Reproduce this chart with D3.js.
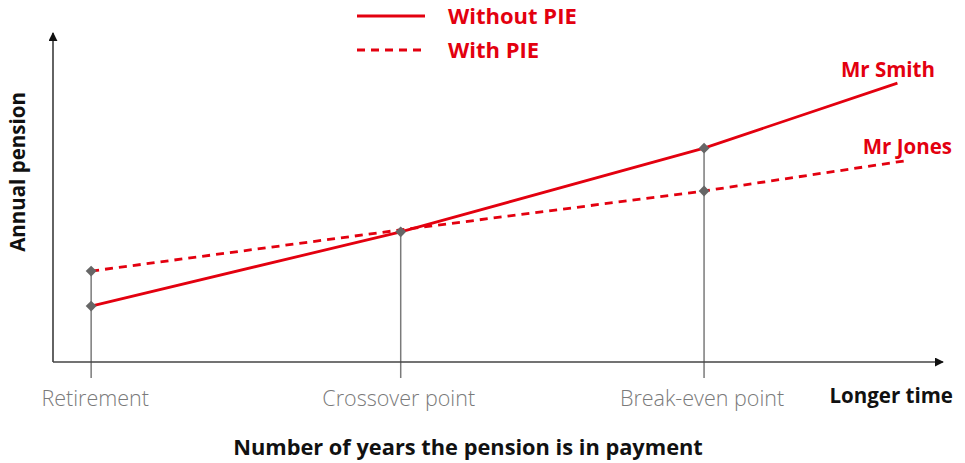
<!DOCTYPE html>
<html>
<head>
<meta charset="utf-8">
<script src="https://cdnjs.cloudflare.com/ajax/libs/d3/7.8.5/d3.min.js"></script>
<style>
  body { margin: 0; background: #fff; }
  svg text { font-family: "Open Sans", sans-serif; }
</style>
</head>
<body>
<script>
// data: time positions (0-100) and pension levels (0-100)
var categories = ['Retirement', 'Crossover point', 'Break-even point'];
var catTimes = [4.3, 39.2, 73.4];
var smithTimes = [4.3, 39.2, 73.4, 95.2];
var smithValues = [17.1, 39.8, 65.4, 85.3];
var jonesTimes = [4.3, 39.2, 73.4, 96.0];
var jonesValues = [27.8, 40.4, 52.3, 61.5];
var markerTimes = [4.3, 4.3, 39.2, 73.4, 73.4];
var markerValues = [27.8, 17.1, 39.8, 65.4, 52.3];

var width = 965, height = 463;
var red = '#e3000f', grey = '#7a7a7a';

var svg = d3.select('body').append('svg')
    .attr('width', width)
    .attr('height', height);

var x = d3.scaleLinear().domain([0, 100]).range([53, 940]);
var y = d3.scaleLinear().domain([0, 100]).range([362, 35]);

// arrow heads
var defs = svg.append('defs');
defs.append('marker')
    .attr('id', 'arrow')
    .attr('viewBox', '0 0 10 10')
    .attr('refX', 9).attr('refY', 5)
    .attr('markerWidth', 9).attr('markerHeight', 9)
    .attr('markerUnits', 'userSpaceOnUse')
    .attr('orient', 'auto')
  .append('path').attr('d', 'M0,0L10,5L0,10Z').attr('fill', '#111');

// category drop lines
svg.append('g').selectAll('line')
    .data(categories)
    .join('line')
    .attr('x1', function(d, i){ return x(catTimes[i]); })
    .attr('x2', function(d, i){ return x(catTimes[i]); })
    .attr('y1', function(d, i){
        var top = 0;
        markerTimes.forEach(function(t, j){ if (t === catTimes[i]) top = Math.max(top, markerValues[j]); });
        return y(top);
    })
    .attr('y2', y(0) + 16)
    .attr('stroke', grey)
    .attr('stroke-width', 1.5);

// axes
svg.append('line')
    .attr('x1', x(0)).attr('y1', y(0))
    .attr('x2', x(0)).attr('y2', y(100) - 2)
    .attr('stroke', '#222').attr('stroke-width', 1.4)
    .attr('marker-end', 'url(#arrow)');
svg.append('line')
    .attr('x1', x(0)).attr('y1', y(0))
    .attr('x2', x(100) + 3).attr('y2', y(0))
    .attr('stroke', '#444').attr('stroke-width', 1.6)
    .attr('marker-end', 'url(#arrow)');

// series lines
var line = d3.line()
    .x(function(d){ return x(d[0]); })
    .y(function(d){ return y(d[1]); });

svg.append('path')
    .datum(d3.zip(jonesTimes, jonesValues))
    .attr('d', line)
    .attr('fill', 'none')
    .attr('stroke', red)
    .attr('stroke-width', 2.8)
    .attr('stroke-dasharray', '8,6');

svg.append('path')
    .datum(d3.zip(smithTimes, smithValues))
    .attr('d', line)
    .attr('fill', 'none')
    .attr('stroke', red)
    .attr('stroke-width', 2.8);

// diamond markers
svg.append('g').selectAll('path')
    .data(d3.zip(markerTimes, markerValues))
    .join('path')
    .attr('d', d3.symbol().type(d3.symbolDiamond2).size(75))
    .attr('transform', function(d){ return 'translate(' + x(d[0]) + ',' + y(d[1]) + ')'; })
    .attr('fill', '#666');

// category labels
svg.append('g').selectAll('text')
    .data(categories)
    .join('text')
    .attr('x', function(d, i){ return x(catTimes[i]) + (i === 0 ? 4 : -2); })
    .attr('y', 406)
    .attr('text-anchor', 'middle')
    .attr('font-size', 21.5)
    .attr('font-weight', 300)
    .attr('fill', grey)
    .text(function(d){ return d; });

svg.append('text')
    .attr('x', 953).attr('y', 403)
    .attr('text-anchor', 'end')
    .attr('font-size', 20.5)
    .attr('font-weight', 700)
    .attr('fill', '#111')
    .text('Longer time');

// axis titles
svg.append('text')
    .attr('x', 468).attr('y', 455)
    .attr('text-anchor', 'middle')
    .attr('font-size', 21.8)
    .attr('font-weight', 700)
    .attr('fill', '#111')
    .text('Number of years the pension is in payment');

svg.append('text')
    .attr('transform', 'translate(25,172) rotate(-90)')
    .attr('text-anchor', 'middle')
    .attr('font-size', 20.5)
    .attr('font-weight', 700)
    .attr('fill', '#111')
    .text('Annual pension');

// series labels
svg.append('text')
    .attr('x', 935).attr('y', 77)
    .attr('text-anchor', 'end')
    .attr('font-size', 20.5).attr('font-weight', 700)
    .attr('fill', red)
    .text('Mr Smith');
svg.append('text')
    .attr('x', 952).attr('y', 154)
    .attr('text-anchor', 'end')
    .attr('font-size', 20.5).attr('font-weight', 700)
    .attr('fill', red)
    .text('Mr Jones');

// legend
var legend = svg.append('g');
var legendItems = [['Without PIE', null], ['With PIE', '8,6']];
legend.selectAll('line')
    .data(legendItems)
    .join('line')
    .attr('x1', 357).attr('x2', 425)
    .attr('y1', function(d, i){ return 16 + i * 34; })
    .attr('y2', function(d, i){ return 16 + i * 34; })
    .attr('stroke', red)
    .attr('stroke-width', 2.8)
    .attr('stroke-dasharray', function(d){ return d[1]; });
legend.selectAll('text')
    .data(legendItems)
    .join('text')
    .attr('x', 448)
    .attr('y', function(d, i){ return 24 + i * 34; })
    .attr('font-size', 22).attr('font-weight', 700)
    .attr('fill', red)
    .text(function(d){ return d[0]; });
</script>
</body>
</html>
